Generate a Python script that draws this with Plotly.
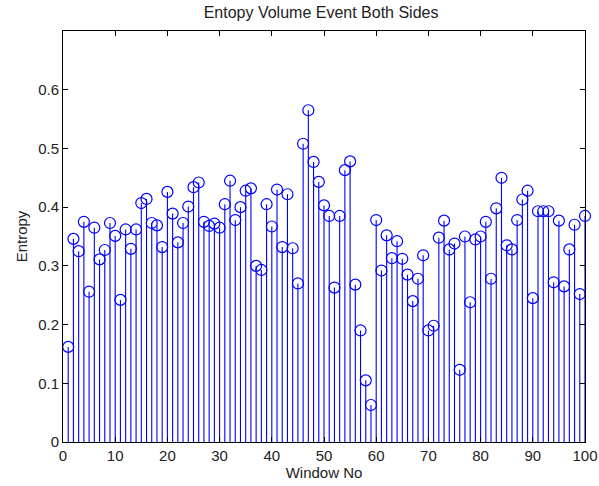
import plotly.graph_objects as go

window_no = list(range(1, 101))
entropy = [
    0.162, 0.346, 0.325, 0.375, 0.256, 0.365, 0.311, 0.327, 0.373, 0.351,
    0.242, 0.362, 0.329, 0.362, 0.407, 0.414, 0.373, 0.369, 0.332, 0.426,
    0.389, 0.340, 0.373, 0.401, 0.434, 0.442, 0.375, 0.368, 0.372, 0.365,
    0.405, 0.445, 0.378, 0.400, 0.428, 0.432, 0.300, 0.293, 0.405, 0.367,
    0.430, 0.332, 0.422, 0.330, 0.270, 0.508, 0.565, 0.477, 0.443, 0.403,
    0.385, 0.263, 0.385, 0.463, 0.478, 0.268, 0.190, 0.105, 0.063, 0.378,
    0.292, 0.352, 0.313, 0.342, 0.312, 0.285, 0.240, 0.278, 0.318, 0.190,
    0.198, 0.348, 0.377, 0.328, 0.338, 0.123, 0.350, 0.238, 0.345, 0.350,
    0.375, 0.278, 0.398, 0.450, 0.335, 0.328, 0.378, 0.413, 0.428, 0.245,
    0.393, 0.393, 0.393, 0.272, 0.377, 0.265, 0.328, 0.370, 0.252, 0.385,
]
x_ticks = [0, 10, 20, 30, 40, 50, 60, 70, 80, 90, 100]
y_ticks = [0, 0.1, 0.2, 0.3, 0.4, 0.5, 0.6]
y_tick_labels = ["0", "0.1", "0.2", "0.3", "0.4", "0.5", "0.6"]

stem_x, stem_y = [], []
for xv, yv in zip(window_no, entropy):
    stem_x += [xv, xv, None]
    stem_y += [0, yv, None]

blue = "#0000FF"
fig = go.Figure()
fig.add_trace(go.Scatter(x=stem_x, y=stem_y, mode="lines",
                         line=dict(color=blue, width=1.1), hoverinfo="skip",
                         showlegend=False, cliponaxis=False))
fig.add_trace(go.Scatter(x=window_no, y=entropy, mode="markers",
                         marker=dict(symbol="circle-open", size=11,
                                     color=blue, line=dict(width=1.2, color=blue)),
                         showlegend=False, cliponaxis=False))

axis_common = dict(showline=True, linecolor="black", linewidth=1, mirror="ticks",
                   ticks="inside", ticklen=5, tickcolor="black", showgrid=False,
                   zeroline=False, automargin=False,
                   tickfont=dict(size=15, color="#222222"))
fig.update_xaxes(range=[0, 100], tickvals=x_ticks,
                 title=dict(text="Window No", font=dict(size=15, color="#222222"), standoff=2),
                 **axis_common)
fig.update_yaxes(range=[0, 0.7], tickvals=y_ticks, ticktext=y_tick_labels,
                 title=dict(text="Entropy", font=dict(size=15, color="#222222"), standoff=6),
                 **axis_common)
fig.update_layout(
    width=599, height=486,
    margin=dict(l=63, r=14, t=31, b=44),
    paper_bgcolor="white", plot_bgcolor="white",
    font=dict(family="Liberation Sans, Arial, sans-serif", color="#222222"),
    title=dict(text="Entopy Volume Event Both Sides", x=0.536, xanchor="center",
               y=0.975, yanchor="middle", automargin=False,
               font=dict(size=16, color="#222222")),
)
fig.write_html("out.html", config={"displayModeBar": False},
               post_script="document.body.style.margin='0';")
